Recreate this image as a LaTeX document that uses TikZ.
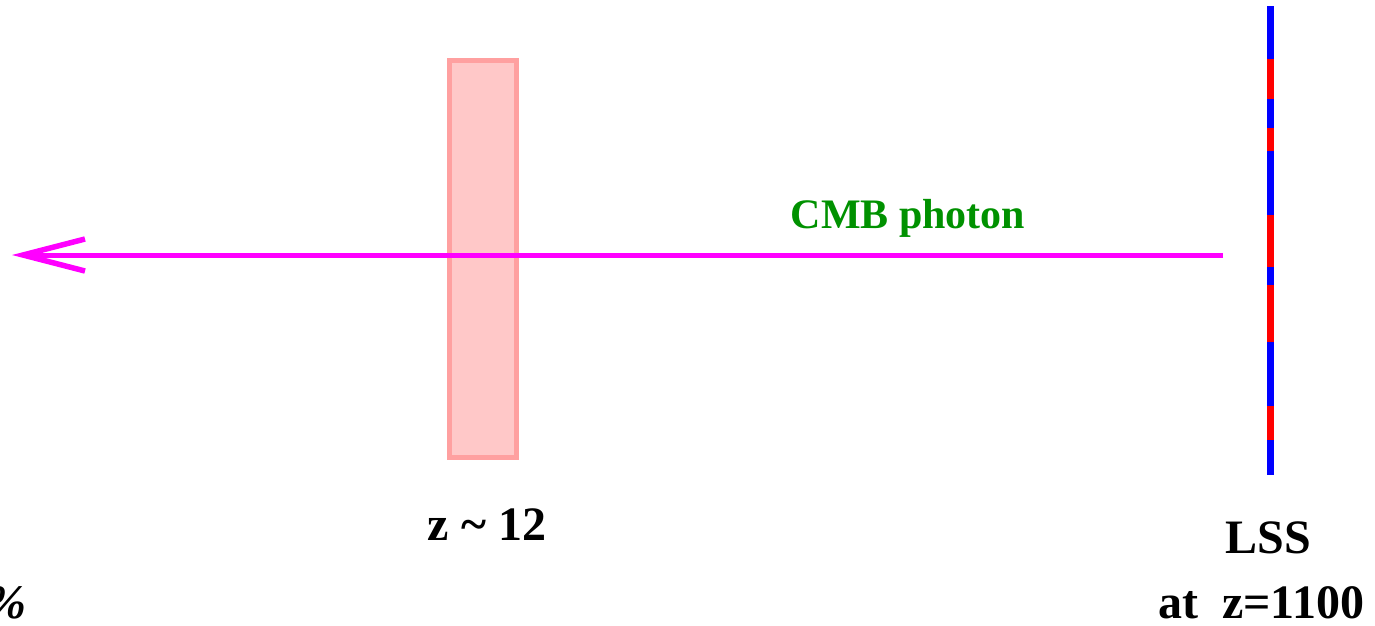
\documentclass[tikz,border=0pt]{standalone}
\usepackage{fontspec}
\setmainfont{Liberation Serif}
\usetikzlibrary{arrows.meta}
\definecolor{slabfill}{RGB}{255,200,200}
\definecolor{slabedge}{RGB}{255,160,160}
\definecolor{photongreen}{RGB}{0,145,0}
\definecolor{photonpink}{RGB}{255,0,255}
\tikzset{sketch/.style={
  x=1pt,y=-1pt,
  line join=miter
},
label/.style={font=\bfseries\fontsize{48}{52}\selectfont,inner sep=0pt,anchor=base}
}

\begin{document}
\begin{tikzpicture}[sketch]
  \useasboundingbox (0,0) rectangle (1375,625);
  \coordinate (S) at (1223,255);
  \coordinate (E) at (12,255);
  \draw[slabedge,fill=slabfill,line width=5pt] (449.5,60) rectangle (516.5,457.5);
  \draw[photonpink,line width=5pt,-{Straight Barb[length=62pt,width=32pt,line width=5.5pt]}] (S)--(E);
  \draw[blue,line width=7pt] (1270.5,6)--(1270.5,475);
  \foreach \a/\b in {59/99,128/151,215/267,285/342,406/440}
    \draw[red,line width=7pt] (1270.5,\a)--(1270.5,\b);
  \node[label,font=\bfseries\fontsize{42}{46}\selectfont,text=photongreen] (cmb) at (908,228) {CMB photon};
  \node[label] (zre) at (487,540) {z \textasciitilde\ 12};
  \node[label] (lss) at (1268,553) {LSS};
  \node[label] (zls) at (1261,618) {at\ \ z=1100};
  \node[label,anchor=base east] (pct) at (27,618) {\itshape\%};
\end{tikzpicture}
\end{document}
